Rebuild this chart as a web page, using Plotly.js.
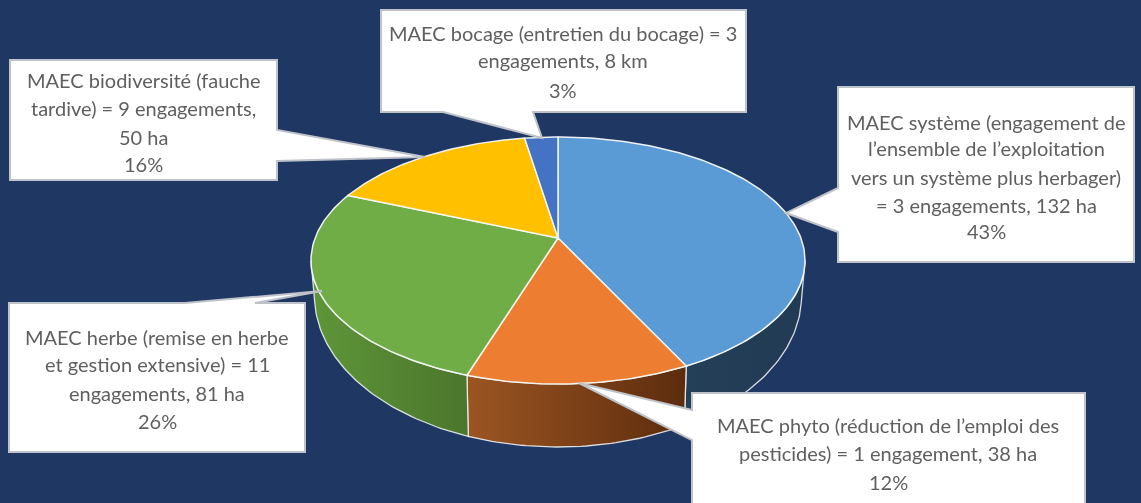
<!DOCTYPE html>
<html><head><meta charset="utf-8">
<script src="https://cdn.plot.ly/plotly-3.0.1.min.js"></script>
<style>html,body{margin:0;padding:0;background:#1f3763}#chart{filter:blur(0.5px)}</style></head>
<body><div id="chart" style="width:1141px;height:503px"></div>
<script>
// Data (clockwise from 12 o'clock)
const categories = ["MAEC système","MAEC phyto","MAEC herbe","MAEC biodiversité","MAEC bocage"];
const amounts = [132,38,81,50,8];
const topColors = ["#5b9bd5","#ed7d31","#70ad47","#ffc000","#4472c4"];
const wallLeftColors = ["#243f58","#9c5522","#5f9639","#000000","#000000"];
const wallRightColors = ["#223b54","#5c2c0d","#4b762c","#000000","#000000"];

const labelCentersX = [986,888,157,143.5,563];
const labelLines = [
 ["MAEC système (engagement de","l’ensemble de l’exploitation","vers un système plus herbager)","= 3 engagements, 132 ha","43%"],
 ["MAEC phyto (réduction de l’emploi des","pesticides) = 1 engagement, 38 ha","12%"],
 ["MAEC herbe (remise en herbe","et gestion extensive) = 11","engagements, 81 ha","26%"],
 ["MAEC biodiversité (fauche","tardive) = 9 engagements,","50 ha","16%"],
 ["MAEC bocage (entretien du bocage) = 3","engagements, 8 km","3%"]
];
const labelLineY = [
 [122,148,177,205,231],[425,453,482],[337,364,393,421],[80,108,137,164],[33,60,90]
];
// callout outlines: box left,right,top,bottom and pointer
const calloutPaths = [
 "M838,87 L1134,87 L1134,262 L838,262 L838,232 L786,213 L838,188 Z",
 "M692,393 L1085,393 L1085,510 L692,510 L692,440 L579,383 L692,410 Z",
 "M9,303 L185,303 L322,291 L255,303 L305,303 L305,452 L9,452 Z",
 "M10,60 L277,60 L277,130 L425,157 L277,161 L277,180 L10,180 Z",
 "M381,10 L746,10 L746,112 L533,112 L542,138 L443,112 L381,112 Z"
];

// Perspective disc: projects a point of the pie's rim (angle clockwise from top)
const CX=558, CY=238, B=242.9, A=119.4, K=-0.182;
const rim = deg => {
  const t=deg*Math.PI/180, u=Math.sin(t), v=-Math.cos(t), d=1+K*v;
  return [CX+B*u/d, CY+A*v/d];
};
const wallBottom = p => {
  const x=CX+(p[0]-CX)*0.985;
  const f=Math.min(1,Math.abs(x-CX)/243.5);
  return [x,296+151*Math.sqrt(1-f*f)];
};
const total = amounts.reduce((a,b)=>a+b,0);
const angles=[0];
amounts.forEach(v=>angles.push(angles[angles.length-1]+v/total*360));
const VIS0=100.5, VIS1=259.5;
const arc=(a,b)=>{const p=[];const n=Math.max(2,Math.ceil(Math.abs(b-a)));
  for(let i=0;i<=n;i++)p.push(rim(a+(b-a)*i/n));return p;};

const traces=[];
categories.forEach((c,i)=>{
  const a=Math.max(angles[i],VIS0), b=Math.min(angles[i+1],VIS1);
  if(b<=a) return;
  const top=arc(a,b);
  const bot=top.map(wallBottom).reverse();
  const pts=top.concat(bot); pts.push(top[0]);
  traces.push({type:"scatter",mode:"lines",name:c+" (côté)",
    x:pts.map(p=>p[0]),y:pts.map(p=>p[1]),
    fill:"toself",
    fillgradient:{type:"horizontal",colorscale:[[0,wallLeftColors[i]],[1,wallRightColors[i]]]},
    line:{color:"rgba(235,240,240,0.9)",width:1.3},hoverinfo:"skip",showlegend:false});
});
categories.forEach((c,i)=>{
  const pts=[[CX,CY]].concat(arc(angles[i],angles[i+1])); pts.push([CX,CY]);
  traces.push({type:"scatter",mode:"lines",name:c,
    x:pts.map(p=>p[0]),y:pts.map(p=>p[1]),
    fill:"toself",fillcolor:topColors[i],
    line:{color:"rgba(245,248,245,0.95)",width:1.5},
    text:c+": "+amounts[i],hoverinfo:"text",showlegend:false});
});

const annotations=[];
labelLines.forEach((lines,i)=>lines.forEach((t,j)=>annotations.push({
  x:labelCentersX[i],y:labelLineY[i][j],xref:"x",yref:"y",text:t,showarrow:false,
  xanchor:"center",yanchor:"middle",
  font:{family:"Lato, 'Open Sans', sans-serif",size:20,color:"#5f5f5f"}
})));
const shapes=calloutPaths.map(p=>({type:"path",path:p,xref:"x",yref:"y",layer:"above",
  fillcolor:"#ffffff",line:{color:"#bfc3c9",width:2}}));

Plotly.newPlot("chart",traces,{
  width:1141,height:503,margin:{l:0,r:0,t:0,b:0},
  paper_bgcolor:"#1f3763",plot_bgcolor:"#1f3763",showlegend:false,
  xaxis:{range:[0,1141],visible:false,fixedrange:true},
  yaxis:{range:[503,0],visible:false,fixedrange:true},
  shapes,annotations
},{displayModeBar:false,staticPlot:true});
</script></body></html>
